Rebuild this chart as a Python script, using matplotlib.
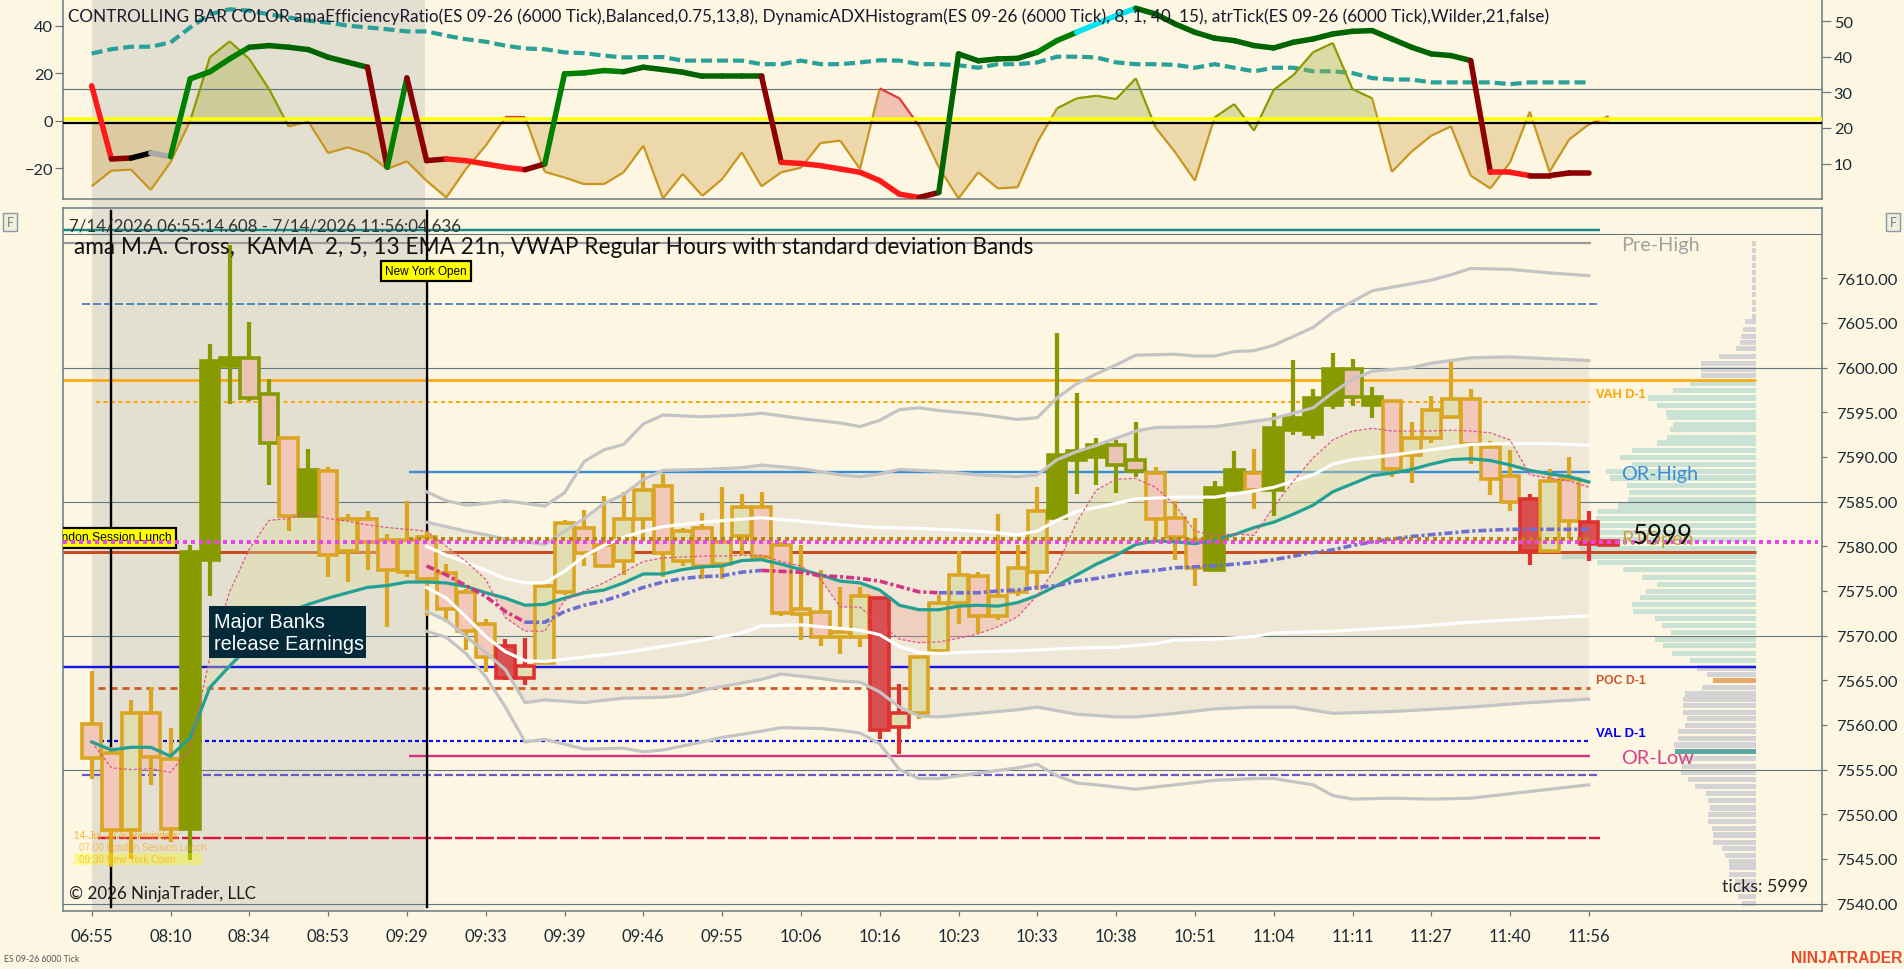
import numpy as np
import matplotlib
matplotlib.use("Agg")
import matplotlib.pyplot as plt
from matplotlib.patches import Rectangle
from matplotlib.collections import LineCollection

plt.rcParams['lines.scale_dashes'] = False
LATO = ['Lato', 'DejaVu Sans']
ARIAL = ['Liberation Sans', 'DejaVu Sans']
plt.rcParams['font.family'] = LATO

# ------------------------------------------------------------------ data
time_labels = ["06:55", "08:10", "08:34", "08:53", "09:29", "09:33", "09:39", "09:46", "09:55", "10:06",
               "10:16", "10:23", "10:33", "10:38", "10:51", "11:04", "11:11", "11:27", "11:40", "11:56"]
label_bars = list(range(0, 80, 4))
price_ticks = [7540, 7545, 7550, 7555, 7560, 7565, 7570, 7575, 7580, 7585, 7590, 7595, 7600, 7605, 7610]

opens = [7560.1, 7556.9, 7548.2, 7561.3, 7556.2, 7548.3, 7578.5, 7600.2, 7601.1, 7597.1,
         7592.1, 7583.4, 7588.4, 7579.5, 7583.1, 7580.7, 7577.1, 7581.0, 7577.0, 7574.9,
         7571.3, 7568.8, 7565.2, 7566.9, 7574.9, 7582.1, 7580.2, 7578.3, 7583.1, 7586.8,
         7578.3, 7582.1, 7578.0, 7581.2, 7584.4, 7580.2, 7573.0, 7572.7, 7569.8, 7569.8,
         7574.2, 7559.8, 7561.3, 7568.3, 7573.7, 7576.7, 7572.2, 7574.9, 7577.1, 7583.2,
         7589.7, 7590.0, 7591.3, 7589.7, 7588.2, 7583.2, 7580.7, 7577.3, 7586.3, 7588.2,
         7586.3, 7593.0, 7592.6, 7595.8, 7599.9, 7596.7, 7596.3, 7590.2, 7592.1, 7594.5,
         7596.5, 7591.1, 7587.9, 7585.3, 7579.5, 7587.5, 7582.7, 7580.6]
highs = [7566.0, 7557.5, 7562.8, 7564.3, 7559.7, 7580.1, 7602.6, 7613.7, 7605.1, 7598.7,
         7592.1, 7590.9, 7588.9, 7583.6, 7584.0, 7581.4, 7585.1, 7581.7, 7578.0, 7575.2,
         7571.9, 7569.6, 7569.7, 7575.8, 7582.9, 7584.1, 7585.6, 7586.1, 7588.2, 7588.1,
         7582.0, 7583.7, 7586.6, 7585.8, 7586.1, 7580.5, 7580.2, 7577.3, 7575.4, 7575.4,
         7574.2, 7564.6, 7567.6, 7574.5, 7579.5, 7577.1, 7583.6, 7580.1, 7586.6, 7603.9,
         7597.2, 7592.1, 7591.9, 7593.9, 7588.9, 7585.1, 7583.2, 7587.3, 7590.7, 7590.9,
         7594.9, 7600.9, 7597.6, 7601.6, 7601.0, 7597.8, 7596.3, 7593.9, 7596.8, 7600.6,
         7597.6, 7591.8, 7590.8, 7585.8, 7588.6, 7590.0, 7583.9, 7580.6]
lows = [7553.9, 7544.1, 7545.0, 7553.3, 7546.9, 7544.9, 7574.4, 7595.9, 7596.3, 7586.9,
        7581.7, 7583.4, 7576.6, 7576.0, 7577.4, 7571.0, 7576.6, 7572.2, 7571.5, 7568.4,
        7565.9, 7565.0, 7564.5, 7566.9, 7574.6, 7577.8, 7577.8, 7576.8, 7580.7, 7576.6,
        7577.8, 7576.3, 7576.3, 7579.0, 7578.3, 7572.2, 7569.5, 7568.8, 7567.9, 7568.7,
        7558.4, 7556.7, 7560.7, 7568.3, 7571.3, 7570.3, 7571.7, 7574.4, 7575.1, 7583.0,
        7585.9, 7586.9, 7586.0, 7587.8, 7581.0, 7578.5, 7575.5, 7577.3, 7586.3, 7584.2,
        7583.4, 7592.5, 7592.0, 7595.4, 7595.7, 7594.4, 7587.8, 7587.1, 7591.6, 7594.3,
        7589.2, 7585.7, 7584.0, 7577.9, 7579.5, 7580.8, 7578.3, 7580.2]
closes = [7556.3, 7548.2, 7561.3, 7556.4, 7548.3, 7579.4, 7600.7, 7601.1, 7596.6, 7591.6,
          7583.4, 7588.5, 7579.0, 7583.1, 7580.5, 7577.4, 7580.7, 7576.3, 7573.0, 7570.5,
          7567.6, 7565.2, 7566.6, 7575.6, 7582.6, 7579.3, 7577.8, 7583.1, 7586.3, 7579.3,
          7581.7, 7577.8, 7580.5, 7584.4, 7578.8, 7572.5, 7572.4, 7569.8, 7570.4, 7574.4,
          7559.4, 7561.3, 7567.6, 7573.7, 7576.8, 7572.2, 7574.4, 7577.6, 7584.0, 7590.2,
          7590.7, 7591.3, 7589.1, 7588.4, 7583.1, 7581.0, 7577.6, 7586.5, 7588.5, 7586.3,
          7593.2, 7594.4, 7596.6, 7599.9, 7596.7, 7595.8, 7588.6, 7592.1, 7595.3, 7596.5,
          7591.4, 7587.5, 7585.0, 7579.5, 7587.3, 7582.8, 7580.3, 7580.2]
# bar colour code: O olive, o olive edge/pink, G gold/green, P gold/pink, R red, r red edge/green
bar_style = ("PPGPPOOOoo" "POPGPPGPPP" "PRrGGPPGGP" "GPGGPPPPGG"
             "RrGGGPGGGO" "OOooPPPOOP" "OOOOoOPGGG" "PPPRGPRR")

ema21 = [7558.1, 7557.2, 7557.5, 7557.5, 7556.5, 7558.6, 7564.2, 7566.6, 7568.8, 7571.0,
         7572.7, 7573.5, 7574.2, 7574.8, 7575.4, 7575.6, 7576.0, 7576.0, 7575.9, 7575.5,
         7574.8, 7574.2, 7573.4, 7573.5, 7574.2, 7574.8, 7575.1, 7575.9, 7576.9, 7576.9,
         7577.4, 7577.7, 7577.8, 7578.4, 7578.5, 7578.0, 7577.4, 7576.8, 7576.1, 7575.9,
         7575.1, 7573.4, 7572.9, 7572.9, 7573.3, 7573.4, 7573.3, 7573.7, 7574.5, 7575.6,
         7576.8, 7578.0, 7579.0, 7580.2, 7580.6, 7580.5, 7580.3, 7580.7, 7581.3, 7582.1,
         7582.7, 7583.6, 7584.6, 7586.1, 7587.0, 7587.9, 7588.2, 7588.6, 7589.2, 7589.7,
         7589.8, 7589.6, 7589.1, 7588.5, 7588.1, 7587.8, 7587.2]
kama = [7558.1, 7555.2, 7555.0, 7555.1, 7554.7, 7557.4, 7567.6, 7574.9, 7579.7, 7582.9,
        7583.1, 7583.7, 7583.1, 7582.8, 7582.4, 7582.1, 7581.9, 7581.7, 7580.0, 7578.3,
        7576.3, 7572.0, 7570.5, 7570.5, 7573.9, 7575.0, 7575.9, 7577.1, 7578.3, 7578.7,
        7578.8, 7578.9, 7578.9, 7579.0, 7579.0, 7578.3, 7577.8, 7576.3, 7573.2, 7573.2,
        7571.3, 7569.6, 7569.2, 7569.3, 7569.7, 7570.2, 7571.0, 7572.1, 7574.5, 7577.8,
        7582.7, 7586.3, 7587.5, 7587.6, 7586.6, 7584.6, 7581.7, 7581.2, 7581.4, 7581.2,
        7584.4, 7587.3, 7589.9, 7591.9, 7592.9, 7593.2, 7592.9, 7592.9, 7592.9, 7593.0,
        7592.9, 7592.7, 7591.9, 7588.0, 7587.6, 7587.3, 7586.6]

vwap_start = 17
vwap = [7577.8, 7576.8, 7575.6, 7574.4, 7572.7, 7571.5, 7571.5, 7572.7, 7573.4, 7573.9,
        7574.6, 7575.4, 7576.0, 7576.4, 7576.6, 7576.7, 7577.1, 7577.3, 7577.2, 7577.1,
        7576.7, 7576.6, 7576.4, 7576.1, 7575.5, 7574.9, 7574.8, 7574.8, 7574.8, 7575.0,
        7575.1, 7575.4, 7575.6, 7576.1, 7576.4, 7576.8, 7577.1, 7577.3, 7577.6, 7577.7,
        7577.8, 7578.0, 7578.2, 7578.5, 7578.9, 7579.3, 7579.6, 7580.1, 7580.5, 7580.8,
        7581.1, 7581.3, 7581.5, 7581.7, 7581.8, 7581.9, 7581.9, 7581.9, 7581.9, 7581.9]

u3_x = [17, 18, 19, 20, 21, 22, 23, 24, 25, 26, 27, 28, 29, 31, 33, 34, 36, 38, 39, 40, 41, 42, 43,
        45, 47, 48, 49, 50, 51, 52, 53, 55, 56, 57, 58, 59, 60, 62, 63, 64, 65, 67, 68, 69, 70, 72, 74, 76]
u3_y = [7586.1, 7585.1, 7584.6, 7584.8, 7585.1, 7584.8, 7584.5, 7586.0, 7589.5, 7590.8, 7591.4, 7593.7,
        7594.7, 7594.5, 7594.7, 7594.9, 7594.3, 7593.8, 7593.4, 7594.1, 7595.3, 7595.5, 7595.2,
        7594.8, 7594.2, 7594.4, 7596.6, 7598.2, 7599.3, 7600.3, 7601.4, 7601.5, 7601.3, 7601.3,
        7601.8, 7601.9, 7602.5, 7604.5, 7606.2, 7607.4, 7608.6, 7609.4, 7609.8, 7610.4, 7611.1,
        7611.0, 7610.6, 7610.3]
u2_x = [17, 18, 19, 20, 21, 22, 23, 24, 25, 26, 27, 28, 29, 31, 33, 34, 36, 38, 39, 40, 41, 43,
        45, 47, 48, 49, 50, 51, 52, 53, 54, 57, 59, 60, 62, 63, 64, 65, 67, 68, 70, 72, 74, 76]
u2_y = [7582.7, 7582.2, 7581.7, 7581.3, 7580.8, 7580.5, 7580.2, 7581.7, 7583.1, 7584.8, 7585.8, 7587.5,
        7588.5, 7588.6, 7588.8, 7589.1, 7588.7, 7588.0, 7587.8, 7588.1, 7588.6, 7588.4,
        7588.0, 7587.8, 7588.0, 7589.7, 7590.6, 7591.3, 7592.1, 7592.9, 7593.3, 7593.4, 7594.0,
        7594.3, 7595.5, 7597.2, 7598.7, 7599.6, 7600.0, 7600.5, 7601.1, 7601.2, 7601.0, 7600.8]
u1_x = [17, 18, 19, 20, 21, 22, 23, 24, 25, 26, 27, 28, 29, 31, 34, 36, 38, 40, 42, 45, 47, 48, 49, 50,
        52, 53, 55, 57, 59, 60, 62, 63, 64, 66, 68, 70, 72, 74, 76]
u1_y = [7580.0, 7579.0, 7578.2, 7577.3, 7576.4, 7575.9, 7575.9, 7577.2, 7578.9, 7580.1, 7581.0, 7581.7,
        7582.2, 7582.7, 7583.2, 7582.8, 7582.4, 7582.1, 7582.0, 7581.7, 7581.3, 7581.7, 7582.9,
        7583.9, 7584.8, 7585.3, 7585.5, 7585.5, 7586.2, 7586.6, 7588.0, 7589.2, 7589.7, 7590.2,
        7590.8, 7591.4, 7591.5, 7591.5, 7591.3]
l1_x = [17, 18, 19, 20, 21, 22, 23, 25, 27, 29, 31, 33, 34, 36, 38, 39, 40, 41, 42, 43, 45, 47, 50, 52,
        54, 55, 57, 59, 60, 63, 67, 70, 74, 76]
l1_y = [7575.4, 7574.2, 7572.1, 7569.9, 7568.2, 7567.2, 7567.1, 7567.6, 7568.1, 7568.8, 7569.5, 7570.3,
        7571.1, 7571.2, 7570.8, 7570.6, 7570.1, 7568.8, 7568.1, 7568.0, 7568.2, 7568.3, 7568.6,
        7568.7, 7569.1, 7569.5, 7569.6, 7569.9, 7570.3, 7570.5, 7571.0, 7571.5, 7572.0, 7572.2]
l2_x = [17, 18, 19, 20, 21, 22, 23, 25, 27, 29, 30, 31, 33, 34, 35, 37, 38, 39, 40, 41, 42, 43, 45, 47,
        48, 50, 52, 53, 55, 57, 59, 61, 63, 66, 70, 73, 76]
l2_y = [7572.7, 7571.7, 7569.9, 7568.1, 7566.2, 7562.5, 7562.8, 7562.5, 7563.0, 7563.1, 7563.3, 7563.9,
        7564.7, 7565.1, 7565.7, 7565.2, 7564.9, 7564.8, 7563.7, 7562.0, 7561.0, 7560.9, 7561.3,
        7561.7, 7562.0, 7561.2, 7560.9, 7560.9, 7561.3, 7561.8, 7562.0, 7562.0, 7561.3, 7561.5,
        7562.0, 7562.5, 7562.9]
l3_x = [17, 18, 19, 20, 21, 22, 23, 25, 27, 28, 29, 31, 32, 34, 35, 37, 38, 39, 40, 41, 42, 43, 45, 47,
        48, 49, 50, 51, 53, 55, 57, 59, 60, 62, 63, 64, 66, 68, 70, 72, 74, 76]
l3_y = [7570.5, 7569.8, 7568.0, 7565.4, 7562.0, 7558.1, 7558.4, 7557.3, 7557.4, 7557.0, 7557.2, 7558.1,
        7558.6, 7559.3, 7559.7, 7559.6, 7559.4, 7559.1, 7557.9, 7555.0, 7554.0, 7554.0, 7554.6,
        7555.2, 7555.6, 7554.3, 7553.5, 7553.3, 7552.8, 7553.3, 7553.8, 7554.0, 7554.0, 7553.3,
        7552.1, 7551.7, 7551.8, 7551.7, 7551.8, 7552.3, 7552.8, 7553.3]

vp_prices = [7613.93, 7613.11, 7612.28, 7611.46, 7610.63, 7609.81, 7608.98, 7608.16, 7607.33, 7606.51, 7605.69,
             7605.14, 7604.31, 7603.49, 7602.77, 7602.11, 7601.29, 7600.46, 7599.75, 7599.09,
             7598.26, 7597.44, 7596.61, 7595.79, 7594.97, 7594.42, 7593.59, 7593.04, 7592.22, 7591.56,
             7590.73, 7589.91, 7589.19, 7588.37, 7587.65, 7586.83, 7586.06, 7585.23, 7584.52, 7583.86,
             7583.15, 7582.32, 7581.50, 7580.78, 7579.74, 7578.86, 7578.20, 7577.37, 7576.55, 7575.72,
             7574.90, 7574.24, 7573.47, 7572.70, 7571.88, 7571.16, 7570.39, 7569.62, 7568.85, 7568.03,
             7567.20, 7566.38, 7565.66, 7565.01, 7564.18, 7563.47, 7562.81, 7562.15, 7561.43, 7560.72,
             7559.95, 7559.23, 7558.52, 7557.75, 7557.04, 7556.21, 7555.39, 7554.67, 7553.90, 7553.13,
             7552.36, 7551.54, 7550.71, 7549.99, 7549.17, 7548.40, 7547.69, 7546.86, 7546.15, 7545.43,
             7544.66, 7544.00, 7543.29, 7542.46, 7541.64, 7540.81, 7539.99]
vp_sizes = [4, 4, 4, 4, 4, 4, 4, 4, 4, 4, 4,
            11, 13.3, 15, 16, 20, 36.7, 55, 55, 55,
            66, 82.7, 107.7, 99.3, 90, 89.3, 82.7, 86, 89.3, 99.3,
            124.3, 136, 124.3, 150, 146, 129.3, 127, 127.7, 137.7, 158.7,
            160, 162.7, 172.7, 173.3, 176, 194.3, 159.3, 132.7, 114.3, 99.3,
            110, 116, 124.3, 123.3, 101, 94.3, 85, 101, 92.7, 84.3,
            66, 59.3, 49.3, 42.7, 54.3, 71, 72.7, 73.3, 73.3, 69.3,
            71, 77.7, 78.3, 81.7, 81, 76, 74.3, 75, 67.7, 61,
            50, 47.7, 46, 47.7, 48.3, 44.3, 43.3, 43.3, 33.7, 31,
            26.7, 26.7, 26.7, 21, 17.7, 17.7, 14.3]
value_area = (7566.5, 7598.65)
vp_poc_price = 7565.01
vp_mark_price = 7557.04

# top panel
eff_ratio = [14.7, -16.1, -15.7, -13.6, -15.1, 17.6, 20.6, 26.0, 30.9, 31.6,
             30.9, 29.9, 26.7, 24.6, 22.5, -19.6, 18.0, -16.8, -16.1, -16.8,
             -18.2, -19.6, -20.6, -18.2, 19.7, 20.1, 21.1, 20.6, 22.5, 21.5,
             20.4, 18.7, 18.7, 18.7, 18.7, -17.5, -18.0, -18.9, -20.3, -21.7,
             -25.2, -30.9, -32.3, -30.2, 28.1, 25.2, 26.0, 26.2, 28.8, 33.7,
             37.2, 40.7, 44.2, 47.3, 44.9, 40.7, 37.2, 34.7, 33.7, 31.6,
             30.6, 33.0, 34.4, 36.5, 37.6, 37.9, 34.4, 30.9, 28.1, 27.4,
             25.3, -21.7, -21.7, -23.1, -23.1, -22.0, -22.0]
eff_colors = ("rdks" "gggg" "GGGGGG" "d" "g" "dd" "rrrr" "d" "gggg" "GGGGGGG" "d"
              "rrrrrrr" "d" "GGGGG" "gg" "ccc" "GGGGGGGGGGGGGGGGG" "d" "rr" "ddd")
atr = [40.9, 42.1, 42.8, 42.8, 44.0, 48.2, 51.9, 53.3, 52.9, 51.9,
       51.0, 50.1, 49.6, 48.7, 48.2, 47.7, 47.1, 47.1, 45.9, 44.9,
       44.2, 43.1, 42.3, 42.1, 41.2, 41.0, 40.3, 39.8, 39.9, 39.9,
       38.9, 38.9, 38.9, 38.9, 37.9, 37.9, 38.9, 37.9, 37.9, 38.4,
       39.0, 38.9, 37.9, 37.9, 37.6, 36.9, 37.9, 37.9, 38.4, 40.0,
       40.0, 39.8, 38.4, 37.9, 37.9, 37.7, 36.9, 37.9, 36.9, 35.9,
       36.9, 36.9, 35.9, 35.9, 35.4, 34.0, 33.6, 33.6, 32.8, 32.8,
       32.8, 32.8, 32.3, 32.8, 32.8, 32.8, 32.8]
adx_hist = [-27.6, -21.0, -20.6, -29.1, -17.5, 0.0, 26.7, 33.4, 26.0, 13.3,
            -2.4, -0.4, -13.6, -11.2, -13.9, -20.3, -17.1, -25.3, -32.3, -20.3,
            -10.5, 1.4, 1.4, -21.5, -23.9, -26.7, -26.7, -21.7, -10.5, -32.7,
            -22.4, -31.6, -24.6, -13.3, -27.6, -21.7, -19.8, -9.4, -8.4, -20.3,
            13.6, 9.4, -2.1, -19.6, -32.7, -21.7, -28.5, -28.0, -9.1, 5.2,
            9.4, 10.5, 9.1, 17.8, -2.8, -13.3, -25.2, 1.4, 7.0, -4.2,
            13.0, 19.2, 28.8, 32.7, 13.3, 9.4, -21.5, -13.0, -6.3, -2.4,
            -23.1, -28.5, -17.5, 3.8, -21.5, -7.9, -1.5, 1.8]
adx_red_bars = [21, 22, 40, 41, 73, 77]
adx_base = -1.0
zero_level = 0.7
top_levels = [13.3]

# ------------------------------------------------------------------ layout helpers
W, H = 1904, 970
BG = '#FDF6E3'
SHADE = '#E3E0D2'
SPINE = '#66787F'
X0, BS = 91.7, 19.70


def X(px):
    return (px - X0) / BS


def P(py):
    return 7610 - (py - 279.3) / 8.933


def PT(px):
    return px * 0.72


fig = plt.figure(figsize=(W / 100, H / 100), dpi=100)
fig.patch.set_facecolor(BG)
renderer = fig.canvas.get_renderer()


def ftext(x, y, s, **kw):
    return fig.text(x / W, 1 - y / H, s, **kw)


def fit(t, target):
    w = t.get_window_extent(renderer).width
    if w > 0:
        t.set_fontsize(t.get_fontsize() * target / w)
    return t


def fs_for(s, target, family=LATO, weight='normal'):
    t = fig.text(0, 0, s, fontsize=10, family=family, weight=weight)
    w = t.get_window_extent(renderer).width
    t.remove()
    return 10 * target / w


L_AX, R_AX = 63, 1822
MAIN_T, MAIN_B = 209, 912
TOP_B = 200

# session shading spanning both panels
fig.add_artist(Rectangle((92 / W, 1 - 912 / H), (424.5 - 92) / W, 912 / H,
                         transform=fig.transFigure, facecolor=SHADE, edgecolor='none', zorder=-1))

ax_top = fig.add_axes([L_AX / W, 1 - TOP_B / H, (R_AX - L_AX) / W, TOP_B / H])
ax_top_r = ax_top.twinx()
ax_vp = fig.add_axes([1556 / W, 1 - MAIN_B / H, 200 / W, (MAIN_B - MAIN_T) / H])
ax_main = fig.add_axes([L_AX / W, 1 - MAIN_B / H, (R_AX - L_AX) / W, (MAIN_B - MAIN_T) / H])
for a in (ax_top, ax_top_r, ax_vp, ax_main):
    a.set_facecolor('none')
ax_top_r.set_zorder(1)
ax_top.set_zorder(2)
ax_vp.set_zorder(1)
ax_main.set_zorder(2)

xlim = (X(L_AX), X(R_AX))
ylim_main = (P(MAIN_B), P(MAIN_T))

# ------------------------------------------------------------------ top panel
ax_top.set_xlim(*xlim)
ax_top.set_ylim((121.7 - TOP_B) / 2.377, 121.7 / 2.377)
ax_top_r.set_ylim(20 + (129 - TOP_B) / 3.565, 20 + 129 / 3.565)

xb = np.arange(len(adx_hist))
h = np.array(adx_hist)
ax_top.fill_between(xb, h, adx_base, where=h >= adx_base, interpolate=True,
                    color='#A8B040', alpha=0.38, lw=0, zorder=1)
ax_top.fill_between(xb, h, adx_base, where=h < adx_base, interpolate=True,
                    color='#D2A850', alpha=0.38, lw=0, zorder=1)
groups = []
for b in adx_red_bars:
    if groups and b == groups[-1][-1] + 1:
        groups[-1].append(b)
    else:
        groups.append([b])
for g in groups:
    lo, hi = max(g[0] - 1, 0), min(g[-1] + 1, len(h) - 1)
    xs = xb[lo:hi + 1]
    ax_top.fill_between(xs, h[lo:hi + 1], adx_base, where=h[lo:hi + 1] >= adx_base,
                        interpolate=True, color='#F2C1B3', lw=0, zorder=1.2)
segs, cols = [], []
for i in range(len(h) - 1):
    segs.append([(i, h[i]), (i + 1, h[i + 1])])
    above = (h[i] + h[i + 1]) / 2 >= adx_base
    red = (i in adx_red_bars or i + 1 in adx_red_bars) and above
    cols.append('#DD3A3A' if red else ('#8E9A00' if above else '#C8961E'))
ax_top.add_collection(LineCollection(segs, colors=cols, linewidths=PT(2.2), zorder=2))

ax_top.axhline(zero_level, color='#FFFF00', lw=PT(3.5), zorder=2.5)
ax_top.axhline(adx_base, color='#000000', lw=PT(2.2), zorder=2.6)
for lv in top_levels:
    ax_top.axhline(lv, color=SPINE, lw=PT(1.2), zorder=1.5)

cmap = {'r': '#FF1A1A', 'd': '#8B0000', 'k': '#000000', 's': '#A9A9A9',
        'g': '#008000', 'G': '#006400', 'c': '#00E5F0'}
er = np.array(eff_ratio)
segs = [[(i, er[i]), (i + 1, er[i + 1])] for i in range(len(er) - 1)]
ax_top.add_collection(LineCollection(segs, colors=[cmap[c] for c in eff_colors],
                                     linewidths=PT(5.5), capstyle='round', zorder=3))

ax_top_r.plot(np.arange(len(atr)), atr, color='#2AA198', lw=PT(4.2),
              linestyle=(0, (PT(11), PT(5))), zorder=2)

for a in (ax_top, ax_top_r):
    a.set_xticks([])
    for s in a.spines.values():
        s.set_visible(False)
ax_top.spines['left'].set_visible(True)
ax_top.spines['bottom'].set_visible(True)
ax_top_r.spines['right'].set_visible(True)
for s in ('left', 'bottom'):
    ax_top.spines[s].set_color(SPINE)
    ax_top.spines[s].set_linewidth(PT(1.5))
ax_top_r.spines['right'].set_color(SPINE)
ax_top_r.spines['right'].set_linewidth(PT(1.5))

tick_fs = fs_for("40", 19)
ax_top.set_yticks([-20, 0, 20, 40])
ax_top.tick_params(axis='y', colors=SPINE, labelcolor='#1B2B34', length=PT(8), width=PT(1.2),
                   pad=1.5, labelsize=tick_fs)
ax_top_r.set_yticks([10, 20, 30, 40, 50])
ax_top_r.tick_params(axis='y', colors=SPINE, labelcolor='#1B2B34', length=PT(9), width=PT(1.2),
                     pad=2, labelsize=tick_fs)

t = ftext(68, 17, "CONTROLLING BAR COLOR amaEfficiencyRatio(ES 09-26 (6000 Tick),Balanced,0.75,13,8), "
          "DynamicADXHistogram(ES 09-26 (6000 Tick), 8, 1, 40, 15), atrTick(ES 09-26 (6000 Tick),Wilder,21,false)",
          fontsize=11, color='#1A1A2A', va='center', ha='left', zorder=5)
fit(t, 1480)

# ------------------------------------------------------------------ main panel
ax = ax_main
ax.set_xlim(*xlim)
ax.set_ylim(*ylim_main)

# grid
for g in range(7540, 7620, 15):
    ax.axhline(g, color=SPINE, lw=PT(1.1), zorder=1.5)

# VWAP std bands fill
ax.fill(u2_x + l2_x[::-1], u2_y + l2_y[::-1], color='#C8C0B0', alpha=0.25, lw=0, zorder=1)

# horizontal levels: price, colour, style, x-from px, x-to px, width px, zorder
levels = [
    (7615.4, '#178A86', '-', 63, 1600, 2.4, 2),
    (7613.95, '#9A9A9A', '-', 63, 1591, 2.2, 2),
    (7607.15, '#4682B4', (0, (PT(8), PT(3))), 82, 1600, 1.8, 2),
    (7598.65, '#FFA500', '-', 63, 1756, 2.6, 2),
    (7596.15, '#FFA500', (0, (PT(4), PT(3.5))), 96, 1590, 2.0, 2),
    (7588.3, '#3A8ED6', '-', 409, 1590, 2.4, 2),
    (7580.8, '#B8860B', (0, (PT(4), PT(4))), 409, 1593, 4.0, 5),
    (7579.4, '#CC4A1C', '-', 63, 1756, 3.0, 2),
    (7566.5, '#1515E6', '-', 63, 1756, 2.4, 2),
    (7564.1, '#D05A22', (0, (PT(7), PT(5))), 98, 1590, 2.8, 2),
    (7558.15, '#0A0AF0', (0, (PT(4), PT(3))), 93, 1590, 2.2, 2),
    (7556.5, '#D6337F', '-', 409, 1590, 2.4, 2),
    (7554.4, '#6A5ACD', (0, (PT(8), PT(3))), 82, 1600, 2.2, 2),
    (7547.4, '#DC143C', (0, (PT(18), PT(3))), 98, 1600, 2.4, 2),
]
for p, c, ls, x0, x1, lw, z in levels:
    ax.plot([X(x0), X(x1)], [p, p], color=c, linestyle=ls, lw=PT(lw), zorder=z,
            solid_capstyle='butt', dash_capstyle='butt')

# session vertical lines
for vx in (110.7, 426.5):
    ax.plot([X(vx), X(vx)], [P(908), P(212)], color='black', lw=PT(2.4), zorder=2.2)

# KAMA / EMA cross fill
bx = np.arange(len(ema21))
ka, em = np.array(kama), np.array(ema21)
ax.fill_between(bx, ka, em, where=ka >= em, interpolate=True, color='#DCDC9C', alpha=0.38, lw=0, zorder=2.3)
ax.fill_between(bx, ka, em, where=ka < em, interpolate=True, color='#F0A090', alpha=0.32, lw=0, zorder=2.3)

# candles
STY = {'O': ('#879B00', '#879B00'), 'o': ('#879B00', '#EBC3B6'),
       'G': ('#DAA520', '#E0DDB0'), 'P': ('#DAA520', '#F2C8BA'),
       'R': ('#E03030', '#D95050'), 'r': ('#E03030', '#E0DDB0')}
body_w = 0.95
for i, (o, hi_, lo_, c, s) in enumerate(zip(opens, highs, lows, closes, bar_style)):
    edge, face = STY[s]
    ax.plot([i, i], [lo_, hi_], color=edge, lw=PT(4.2), solid_capstyle='butt', zorder=3)
    y0 = min(o, c)
    hh = max(abs(c - o), 0.12)
    ax.add_patch(Rectangle((i - body_w / 2, y0), body_w, hh, facecolor=face, edgecolor=edge,
                           lw=PT(3.6), joinstyle='miter', zorder=3.1))

# bands
for bxs, bys, col in ((u3_x, u3_y, '#C4C4C4'), (u2_x, u2_y, '#C4C4C4'), (l2_x, l2_y, '#C4C4C4'),
                      (l3_x, l3_y, '#C4C4C4'), (u1_x, u1_y, '#FFFFFF'), (l1_x, l1_y, '#FFFFFF')):
    ax.plot(bxs, bys, color=col, lw=PT(3.2), zorder=4, solid_joinstyle='round')

# EMA, KAMA
ax.plot(bx, ema21, color='#22A093', lw=PT(3.2), zorder=4.2, solid_joinstyle='round')
ax.plot(bx, kama, color='#E0508A', lw=PT(1.2), linestyle=(0, (PT(3), PT(2))), zorder=4.3)

# VWAP coloured by slope
vw = np.array(vwap)
vx_ = np.arange(vwap_start, vwap_start + len(vw))
runs = []
for i in range(len(vw) - 1):
    col = '#D63384' if vw[i + 1] - vw[i] < -0.05 else '#6E6ED2'
    if runs and runs[-1][0] == col:
        runs[-1][1].append(i + 1)
    else:
        runs.append([col, [i, i + 1]])
for col, idx in runs:
    ax.plot(vx_[idx], vw[idx], color=col, lw=PT(3.6),
            linestyle=(0, (PT(8), PT(3), PT(3), PT(3))), zorder=4.4)

# magenta dotted open level on top
ax.plot([X(63), X(1818)], [7580.45, 7580.45], color='#EA45EA', lw=PT(4),
        linestyle=(0, (PT(4), PT(4))), zorder=6, dash_capstyle='butt')

# spines & ticks
for s in ax.spines.values():
    s.set_color(SPINE)
    s.set_linewidth(PT(1.5))
ax.yaxis.tick_right()
ax.set_yticks(price_ticks)
ax.set_yticklabels([f"{v:.2f}" for v in price_ticks])
ax.tick_params(axis='y', colors=SPINE, labelcolor='#1B2B34', length=PT(5), width=PT(1.2),
               pad=PT(9), labelsize=fs_for("7610.00", 61))
ax.set_xticks(label_bars)
ax.set_xticklabels(time_labels)
ax.tick_params(axis='x', colors=SPINE, labelcolor='#1B2B34', length=PT(5), width=PT(1.2),
               pad=PT(12), labelsize=fs_for("06:55", 43))

# volume profile
ax_vp.set_xlim(200, 0)
ax_vp.set_ylim(*ylim_main)
ax_vp.axis('off')
vcols = []
for p in vp_prices:
    if abs(p - vp_poc_price) < 0.01:
        vcols.append('#E5A96B')
    elif abs(p - vp_mark_price) < 0.01:
        vcols.append('#5EA6A2')
    elif value_area[0] <= p <= value_area[1]:
        vcols.append('#C9E2D3')
    else:
        vcols.append('#D4D4D4')
ax_vp.barh(vp_prices, vp_sizes, height=0.58, left=0, color=vcols, lw=0)

# ------------------------------------------------------------------ annotations
# London session lunch (clipped at axis)
ax.add_patch(Rectangle((X(20), P(548.5)), X(175.5) - X(20), P(528.5) - P(548.5),
                       facecolor='#FFFF00', edgecolor='black', lw=PT(2.2), zorder=5.5))
t = ax.text(X(172), P(538.5), "London Session Lunch", family=ARIAL, fontsize=10,
            ha='right', va='center', color='black', zorder=5.6, clip_on=True)
fit(t, 124)

# New York open box
ax.add_patch(Rectangle((X(381), P(281.5)), X(471) - X(381), P(262.5) - P(281.5),
                       facecolor='#FFFF00', edgecolor='black', lw=PT(2.2), zorder=5.5))
t = ax.text(X(426), P(272), "New York Open", family=ARIAL, fontsize=9, ha='center', va='center',
            color='black', zorder=5.6)
fit(t, 82)

# Major banks box
ax.add_patch(Rectangle((X(209), P(659)), X(366) - X(209), P(607) - P(659),
                       facecolor='#022A38', edgecolor='none', zorder=5.5))
t1 = ax.text(X(214), P(622.5), "Major Banks", family=ARIAL, fontsize=13, ha='left', va='center',
             color='white', zorder=5.6)
t2 = ax.text(X(214), P(645), "release Earnings", family=ARIAL, fontsize=13, ha='left', va='center',
             color='white', zorder=5.6)
fit(t2, 149)
t1.set_fontsize(t2.get_fontsize())

# reminders
ax.add_patch(Rectangle((X(73.5), P(866)), X(202) - X(73.5), P(854) - P(866),
                       facecolor='#FFFF00', alpha=0.35, edgecolor='none', zorder=5.4))
r1 = ax.text(X(73.5), P(836.5), "14-Jul-2026 Reminders:", family=ARIAL, fontsize=8, ha='left',
             va='center', color='#FFA500', alpha=0.85, zorder=5.6)
fit(r1, 107)
r2 = ax.text(X(79), P(848), "07:00 London Session Lunch", family=ARIAL, fontsize=8, ha='left',
             va='center', color='#FFA500', alpha=0.6, zorder=5.6)
fit(r2, 129)
ax.text(X(79), P(860), "09:30 New York Open", family=ARIAL, fontsize=r2.get_fontsize(), ha='left',
        va='center', color='#FFA500', alpha=0.6, zorder=5.6)

# texts
t = ftext(68.6, 226.7, "7/14/2026 06:55:14.608 - 7/14/2026 11:56:04.636", fontsize=11,
          color='#333333', va='center', ha='left', zorder=6)
fit(t, 393)
t = ftext(74, 248, "ama M.A. Cross,  KAMA  2, 5, 13 EMA 21n, VWAP Regular Hours with standard deviation Bands",
          fontsize=14, color='#111111', va='center', ha='left', zorder=6)
fit(t, 958)
t = ftext(68.6, 893.5, "© 2026 NinjaTrader, LLC", fontsize=11, color='#1A1A1A', va='center', ha='left', zorder=6)
fit(t, 187)

t = ftext(1621, 245.7, "Pre-High", fontsize=12, color='#A0A0A0', va='center', ha='left', zorder=6)
fit(t, 78)
lbl_fs = t.get_fontsize()
ftext(1621, 474.5, "OR-High", fontsize=lbl_fs, color='#3A8CD4', va='center', ha='left', zorder=6)
ftext(1621, 539.5, "RTOpen", fontsize=lbl_fs, color='#C8A040', va='center', ha='left', zorder=6)
ftext(1621, 758.5, "OR-Low", fontsize=lbl_fs, color='#D6408A', va='center', ha='left', zorder=6)
t = ftext(1633, 536.5, "5999", fontsize=18, color='#111111', va='center', ha='left', zorder=6.5)
fit(t, 60)
for yy, s, c in ((395, "VAH D-1", '#FFA500'), (681, "POC D-1", '#C8582A'), (734, "VAL D-1", '#0000EE')):
    t = ftext(1596, yy, s, fontsize=9, family=ARIAL, weight='bold', color=c, va='center', ha='left', zorder=6)
    fit(t, 50)
t = ftext(1722, 887, "ticks: 5999", fontsize=11, color='#222222', va='center', ha='left', zorder=6)
fit(t, 86)
t = ftext(1791, 959, "NINJATRADER", fontsize=10, family=ARIAL, weight='bold', color='#E84A2A',
          va='center', ha='left', zorder=6)
fit(t, 111)
t = ftext(4, 960, "ES 09-26 6000 Tick", fontsize=7, color='#555555', va='center', ha='left', zorder=6)
fit(t, 75)

# "F" buttons
for fx_ in (10, 1893):
    ftext(fx_, 223, "F", fontsize=9, color='#708088', va='center', ha='center', zorder=6,
          bbox=dict(boxstyle='square,pad=0.25', facecolor='#F2EEDC', edgecolor='#8A9AA2', lw=1))

fig.savefig("out.png", dpi=100, facecolor=BG)
